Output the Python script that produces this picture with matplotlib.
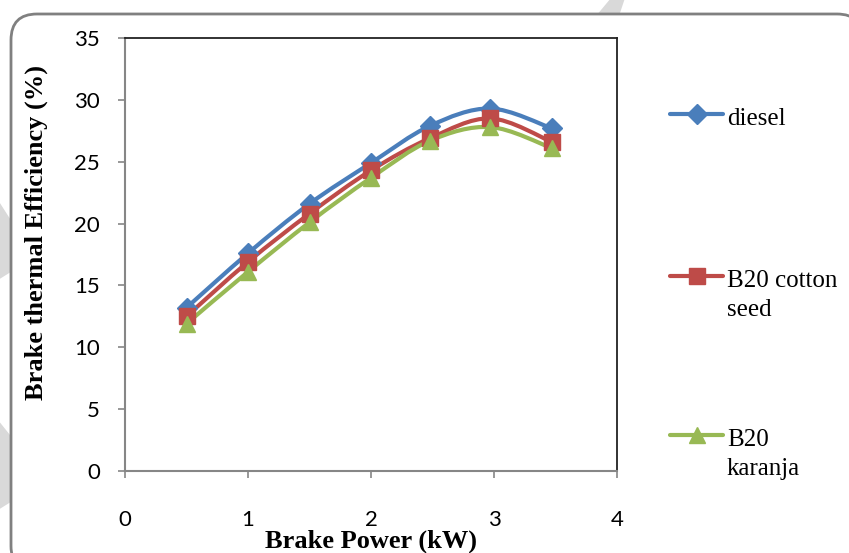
import numpy as np
import matplotlib
matplotlib.use("Agg")
import matplotlib.pyplot as plt
from matplotlib.path import Path
from matplotlib.patches import PathPatch, FancyBboxPatch, Circle, Polygon
from matplotlib.lines import Line2D

# data
brake_power = [0.5, 1.0, 1.5, 2.0, 2.48, 2.97, 3.47]
diesel = [13.2, 17.6, 21.6, 24.9, 27.9, 29.3, 27.7]
b20_cotton = [12.5, 16.9, 20.8, 24.3, 26.9, 28.5, 26.6]
b20_karanja = [11.9, 16.1, 20.1, 23.7, 26.7, 27.8, 26.1]

series_labels = ["diesel", "B20 cotton\nseed", "B20\nkaranja"]
series_colors = ["#4A7EBB", "#BE4B48", "#98B954"]
series_markers = ["D", "s", "^"]
marker_sizes = [10, 11, 12]

W, H = 849, 553


def fx(x):
    return x / W


def fy(y):
    # pixel measured from top -> figure fraction
    return 1 - y / H


def smooth_path(xs, ys):
    # excel-style smoothed line: cubic bezier through every point
    pts = np.column_stack([xs, ys])
    n = len(pts)
    verts = [pts[0]]
    codes = [Path.MOVETO]
    for i in range(n - 1):
        p0 = pts[i - 1] if i > 0 else pts[i]
        p1 = pts[i]
        p2 = pts[i + 1]
        p3 = pts[i + 2] if i + 2 < n else pts[i + 1]
        c1 = p1 + (p2 - p0) / 6.0
        c2 = p2 - (p3 - p1) / 6.0
        verts += [c1, c2, p2]
        codes += [Path.CURVE4] * 3
    return Path(verts, codes)


fig = plt.figure(figsize=(W / 100, H / 100), dpi=100)

# faint watermark bits peeking out round the chart frame
wm = "#D9D9D9"
fig.add_artist(Circle((fx(285), fy(57)), radius=64 / W, transform=fig.transFigure,
                      facecolor=wm, edgecolor="none", zorder=0))
fig.add_artist(Polygon([(fx(596), fy(16)), (fx(619), fy(16)), (fx(625), fy(-2)), (fx(611), fy(-2))],
                       closed=True, transform=fig.transFigure, facecolor=wm, edgecolor="none", zorder=0))
fig.add_artist(Polygon([(fx(-2), fy(200)), (fx(14), fy(225)), (fx(14), fy(270)), (fx(-2), fy(280))],
                       closed=True, transform=fig.transFigure, facecolor=wm, edgecolor="none", zorder=0))
fig.add_artist(Polygon([(fx(-2), fy(420)), (fx(14), fy(440)), (fx(14), fy(500)), (fx(-2), fy(510))],
                       closed=True, transform=fig.transFigure, facecolor=wm, edgecolor="none", zorder=0))

# rounded chart-area frame (in pixels)
frame = FancyBboxPatch((11, H - 572), 852, 558, boxstyle="round,pad=0,rounding_size=26",
                       transform=None, facecolor="white", edgecolor="#808080", linewidth=2.0, zorder=1)
fig.add_artist(frame)

ax = fig.add_axes([fx(125), 1 - 471 / H, 492 / W, 433 / H])
ax.set_zorder(2)
ax.set_facecolor("white")

for ys, col, mk, ms in zip([diesel, b20_cotton, b20_karanja], series_colors, series_markers, marker_sizes):
    ax.add_patch(PathPatch(smooth_path(brake_power, ys), facecolor="none", edgecolor=col,
                           linewidth=3.0, capstyle="round", joinstyle="round", zorder=3))
    ax.plot(brake_power, ys, linestyle="none", marker=mk, markersize=ms,
            color=col, markeredgecolor=col, zorder=4, clip_on=False)

ax.set_xlim(0, 4)
ax.set_ylim(0, 35)
ax.set_xticks([0, 1, 2, 3, 4])
ax.set_yticks(np.arange(0, 36, 5))

for side in ["left", "bottom"]:
    ax.spines[side].set_color("#868686")
    ax.spines[side].set_linewidth(1.5)
for side in ["top", "right"]:
    ax.spines[side].set_color("#222222")
    ax.spines[side].set_linewidth(1.3)

ax.tick_params(axis="y", direction="out", length=5, width=1.2, color="#868686", pad=13)
ax.tick_params(axis="x", direction="out", length=5, width=1.2, color="#868686", pad=23)
for lab in ax.get_xticklabels() + ax.get_yticklabels():
    lab.set_fontfamily("Lato")
    lab.set_fontsize(16)
    lab.set_color("black")

ax.set_ylabel("Brake thermal Efficiency (%)", fontfamily="Liberation Serif",
              fontweight="bold", fontsize=19, va="center")
ax.yaxis.set_label_coords((36 - 125) / 492, (471 - 232) / 433)
ax.set_xlabel("Brake Power (kW)", fontfamily="Liberation Serif",
              fontweight="bold", fontsize=19, va="center")
ax.xaxis.set_label_coords(0.5, (471 - 541) / 433)

# legend drawn by hand, one row per series; first text line sits on the handle
legend_rows = [114, 276, 435]
for lab, col, mk, ms, row in zip(series_labels, series_colors, series_markers, marker_sizes, legend_rows):
    fig.add_artist(Line2D([fx(670), fx(723)], [fy(row), fy(row)], transform=fig.transFigure,
                          color=col, linewidth=3.0, solid_capstyle="round", zorder=5))
    fig.add_artist(Line2D([fx(697)], [fy(row)], transform=fig.transFigure, linestyle="none",
                          marker=mk, markersize=ms, color=col, zorder=6))
    for k, part in enumerate(lab.split("\n")):
        fig.text(fx(727), fy(row + 11 + 29 * k), part, fontfamily="Liberation Serif",
                 fontsize=18, ha="left", va="baseline", zorder=6)

fig.savefig("out.png", dpi=100)
